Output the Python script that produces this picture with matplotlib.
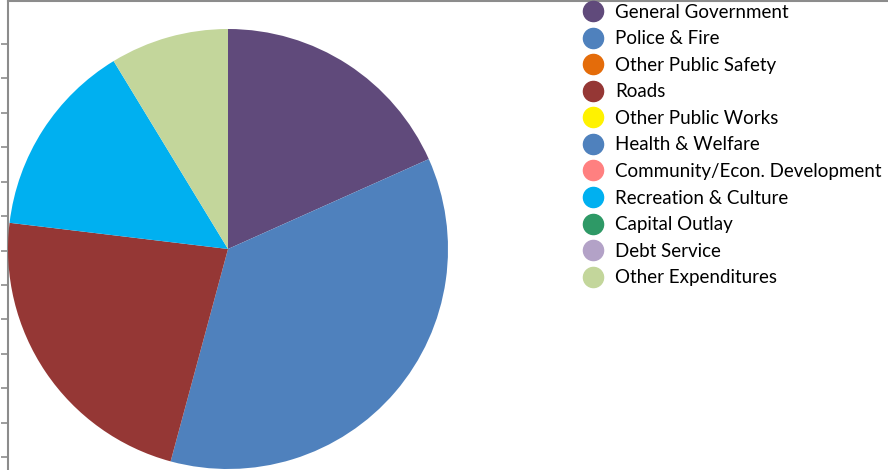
import numpy as np
import matplotlib
matplotlib.use("Agg")
import matplotlib.pyplot as plt
from matplotlib.lines import Line2D

# categories and shares of spending
categories = [
    "General Government",
    "Police & Fire",
    "Other Public Safety",
    "Roads",
    "Other Public Works",
    "Health & Welfare",
    "Community/Econ. Development",
    "Recreation & Culture",
    "Capital Outlay",
    "Debt Service",
    "Other Expenditures",
]
values = [18.3, 35.9, 0.0, 22.7, 0.0, 0.0, 0.0, 14.4, 0.0, 0.0, 8.7]
colors = [
    "#604a7b", "#4f81bd", "#e46c0a", "#953735", "#fff200", "#4f81bd",
    "#ff8080", "#00b0f0", "#2e9966", "#b3a2c7", "#c3d69b",
]

W, H = 888, 470
fig = plt.figure(figsize=(W / 100, H / 100), dpi=100)

# frame with the left tick marks
ax_bg = fig.add_axes([8 / W, 0, 1 - 8 / W, 469 / H])
ax_bg.set_xlim(0, 1)
ax_bg.set_ylim(0, 469)
for s in ["right", "bottom"]:
    ax_bg.spines[s].set_visible(False)
for s in ["left", "top"]:
    ax_bg.spines[s].set_color("#8c8c8c")
    ax_bg.spines[s].set_linewidth(1.5)
ax_bg.set_xticks([])
ax_bg.set_yticks(np.linspace(13, 426, 13))
ax_bg.set_yticklabels([])
ax_bg.tick_params(axis="y", direction="out", length=5, width=1.2, color="#8c8c8c")

# pie
cx, cy, r = 228, 249, 220
ax = fig.add_axes([(cx - r) / W, (H - cy - r) / H, 2 * r / W, 2 * r / H])
nz = [(v, c) for v, c in zip(values, colors) if v > 0]
ax.pie([v for v, _ in nz], colors=[c for _, c in nz], startangle=90,
       counterclock=False, radius=1)
ax.set_xlim(-1, 1)
ax.set_ylim(-1, 1)
ax.set_aspect("equal")

handles = [Line2D([], [], marker="o", linestyle="none", markersize=14.5,
                  markerfacecolor=c, markeredgecolor=c) for c in colors]
fig.legend(handles, categories, loc="upper left",
           bbox_to_anchor=(581 / W, 1 - 3.6 / H), frameon=False,
           prop={"family": "Lato", "size": 13.5}, labelspacing=0.51,
           handletextpad=0.55, handlelength=1.25, borderaxespad=0, borderpad=0)

fig.savefig("out.png", dpi=100)
